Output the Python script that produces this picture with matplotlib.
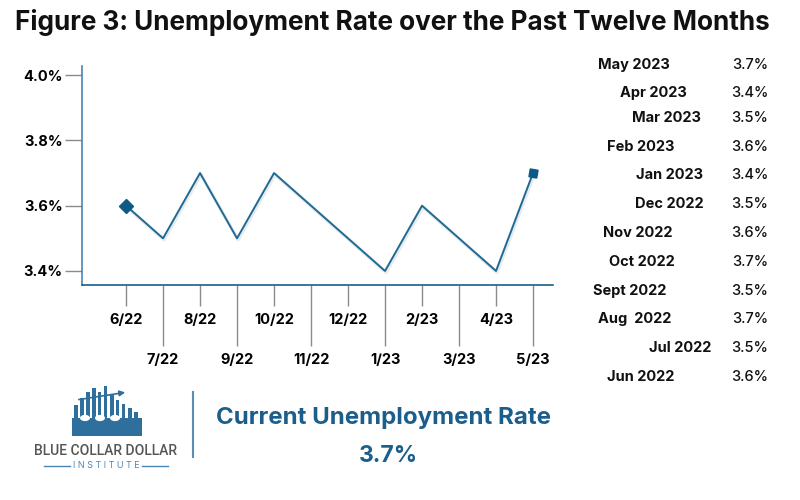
import matplotlib.pyplot as plt
from matplotlib.patches import Rectangle, FancyArrowPatch
from matplotlib.lines import Line2D
from matplotlib.transforms import ScaledTranslation

plt.rcParams['font.family'] = ['Inter', 'DejaVu Sans']

# Data
months = ['6/22', '7/22', '8/22', '9/22', '10/22', '11/22',
          '12/22', '1/23', '2/23', '3/23', '4/23', '5/23']
rates = [3.6, 3.5, 3.7, 3.5, 3.7, 3.6, 3.5, 3.4, 3.6, 3.5, 3.4, 3.7]
y_ticks = [3.4, 3.6, 3.8, 4.0]

table_labels = ['May 2023', 'Apr 2023', 'Mar 2023', 'Feb 2023', 'Jan 2023', 'Dec 2022',
                'Nov 2022', 'Oct 2022', 'Sept 2022', 'Aug  2022', 'Jul 2022', 'Jun 2022']
table_values = ['3.7%', '3.4%', '3.5%', '3.6%', '3.4%', '3.5%',
                '3.6%', '3.7%', '3.5%', '3.7%', '3.5%', '3.6%']
current_rate = '3.7%'

line_col = '#1f6a94'
dark_blue = '#0d5a88'
text_blue = '#1b5e8c'
grey = '#8a8a8a'

fig = plt.figure(figsize=(8, 5), dpi=100)
ax = fig.add_axes([82 / 800, 1 - 285 / 500, (553 - 82) / 800, (285 - 66) / 500])

x = list(range(len(months)))
shadow = ax.transData + ScaledTranslation(1 / 100, -1.5 / 100, fig.dpi_scale_trans)
ax.plot(x, rates, color='#cfd8de', lw=2.5, alpha=0.5, zorder=1, transform=shadow)
ax.plot(x, rates, color=line_col, lw=1.4, zorder=2)
ax.plot(x[0], rates[0], marker='D', ms=7, color=dark_blue, zorder=3)
ax.plot(x[-1], rates[-1], marker=(4, 0, 35), ms=8, color=dark_blue, zorder=3)

ax.set_xlim(-1.19, 11.54)
ax.set_ylim(3.357, 4.028)

ax.set_yticks(y_ticks, [f'{v:.1f}%' for v in y_ticks])
ax.tick_params(axis='y', length=12, width=1, color=grey, pad=2, labelsize=10.5)
for lab in ax.get_yticklabels():
    lab.set_fontweight('bold')

ax.set_xticks(x[0::2], months[0::2])
ax.set_xticks(x[1::2], months[1::2], minor=True)
ax.tick_params(axis='x', which='major', length=15, width=1, color=grey, pad=5, labelsize=10.5)
ax.tick_params(axis='x', which='minor', length=44, width=1, color=grey, pad=5, labelsize=10.5)
for lab in ax.get_xticklabels(which='both'):
    lab.set_fontweight('bold')

for s in ['top', 'right']:
    ax.spines[s].set_visible(False)
ax.spines['left'].set_color('#4a86b4')
ax.spines['bottom'].set_color(text_blue)
ax.spines['left'].set_linewidth(1.2)
ax.spines['bottom'].set_linewidth(1.2)

fig.text(392 / 800, 1 - 22 / 500, 'Figure 3: Unemployment Rate over the Past Twelve Months',
         ha='center', va='center', fontsize=18.8, fontweight='bold', color='#111111')

# table on the right
label_x = [598, 620, 632, 607, 636, 635, 603, 609, 593, 598, 649, 607]
row_y = [65, 93, 118, 147, 175, 204, 233, 262, 291, 319, 348, 377]
for lab, val, lx, ry in zip(table_labels, table_values, label_x, row_y):
    fig.text(lx / 800, 1 - ry / 500, lab, ha='left', va='center',
             fontsize=10.5, fontweight='bold', color='#111111')
    fig.text(768 / 800, 1 - ry / 500, val, ha='right', va='center',
             fontsize=10.5, fontweight='medium', color='#111111')

# bottom panel
fig.add_artist(Line2D([193 / 800, 193 / 800], [1 - 392 / 500, 1 - 457 / 500],
                      color='#5b8db5', lw=1.5))
fig.text(384 / 800, 1 - 418 / 500, 'Current Unemployment Rate', ha='center', va='center',
         fontsize=17.3, fontweight='bold', color=text_blue)
fig.text(388 / 800, 1 - 456 / 500, current_rate, ha='center', va='center',
         fontsize=16.5, fontweight='bold', color=text_blue)

# logo (rough sketch)
bar_x = [74, 80, 86, 92, 98, 104, 110, 116, 122, 128, 134]
bar_top = [405, 398, 392, 388, 392, 386, 394, 400, 404, 408, 412]
for bx, bt in zip(bar_x, bar_top):
    fig.add_artist(Rectangle((bx / 800, 1 - 430 / 500), 3.5 / 800, (430 - bt) / 500,
                             color='#2f6f9e', lw=0))
fig.add_artist(Rectangle((72 / 800, 1 - 436 / 500), 70 / 800, 18 / 500,
                         color='#2f6f9e', lw=0))
for cx in [85, 100, 115]:
    fig.add_artist(plt.Circle((cx / 800, 1 - 418 / 500), 5 / 800, color='white', lw=0))
fig.add_artist(FancyArrowPatch((76 / 800, 1 - 400 / 500), (128 / 800, 1 - 392 / 500),
                               connectionstyle='arc3,rad=0', arrowstyle='-|>',
                               mutation_scale=8, color='#2f6f9e', lw=1.2,
                               transform=fig.transFigure))
fig.text(106 / 800, 1 - 451 / 500, 'BLUE COLLAR DOLLAR', ha='center', va='center',
         fontsize=10, fontweight='medium', color='#555555', family=['Roboto', 'DejaVu Sans'])
fig.text(106 / 800, 1 - 466 / 500, 'I N S T I T U T E', ha='center', va='center',
         fontsize=6.5, color='#4a86b4')
fig.add_artist(Line2D([44 / 800, 70 / 800], [1 - 466 / 500] * 2, color='#4a86b4', lw=1))
fig.add_artist(Line2D([142 / 800, 168 / 800], [1 - 466 / 500] * 2, color='#4a86b4', lw=1))

fig.savefig('out.png', dpi=100)
